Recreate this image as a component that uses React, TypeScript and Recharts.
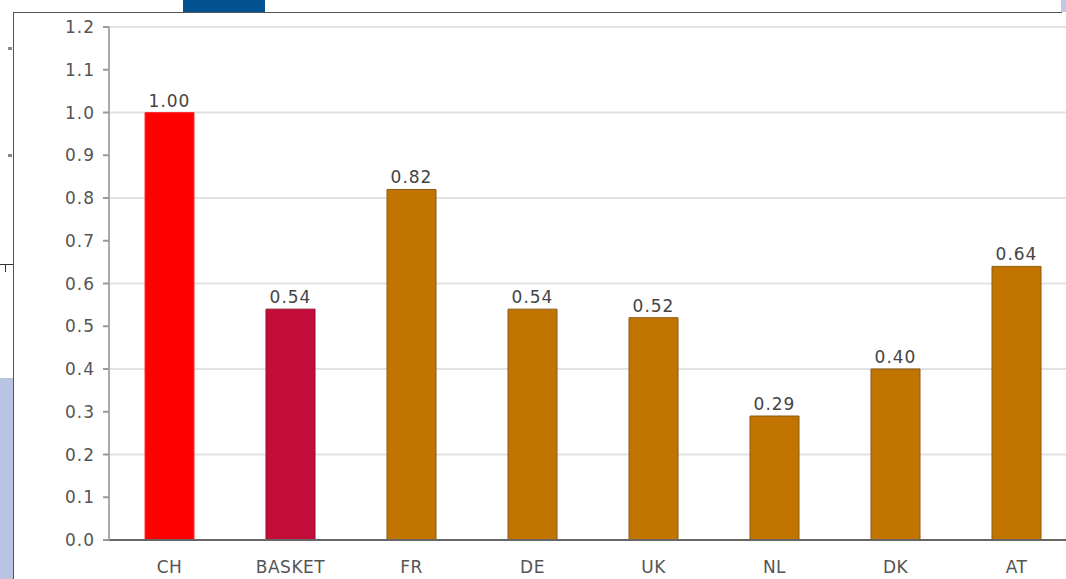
import { BarChart, Bar, XAxis, YAxis, CartesianGrid, Cell, LabelList } from 'recharts';

const categories = ['CH', 'BASKET', 'FR', 'DE', 'UK', 'NL', 'DK', 'AT'];
const values = [1.0, 0.54, 0.82, 0.54, 0.52, 0.29, 0.4, 0.64];
const yTicks = [0, 0.1, 0.2, 0.3, 0.4, 0.5, 0.6, 0.7, 0.8, 0.9, 1.0, 1.1, 1.2];
const gridValues = [0.2, 0.4, 0.6, 0.8, 1.0, 1.2];

const fills = ['#ff0000', '#c20c3a', '#c27400', '#c27400', '#c27400', '#c27400', '#c27400', '#c27400'];
const strokes = ['#ff3030', '#8c1030', '#8a5a18', '#8a5a18', '#8a5a18', '#8a5a18', '#8a5a18', '#8a5a18'];

const data = categories.map((name, i) => ({ name, value: values[i] }));

const font = '"DejaVu Sans", Verdana, sans-serif';

export default function App() {
  return (
    <div
      style={{
        position: 'absolute',
        left: 0,
        top: 0,
        width: 1066,
        height: 579,
        overflow: 'hidden',
        background: '#fff',
        fontFamily: font,
      }}
    >
      {/* page fragments around the chart panel */}
      <div style={{ position: 'absolute', left: 183, top: 0, width: 82, height: 12, background: '#03518f' }} />
      <div style={{ position: 'absolute', left: 1061, top: 0, width: 5, height: 12, background: '#c0c8e8' }} />
      <div style={{ position: 'absolute', left: 0, top: 378, width: 13, height: 201, background: '#b8c4e2' }} />
      <div style={{ position: 'absolute', left: 8, top: 47, width: 4, height: 3, background: '#888' }} />
      <div style={{ position: 'absolute', left: 8, top: 154, width: 4, height: 3, background: '#888' }} />
      <div style={{ position: 'absolute', left: 0, top: 264, width: 13, height: 1, background: '#333' }} />
      <div style={{ position: 'absolute', left: 5, top: 264, width: 1, height: 8, background: '#333' }} />
      <div style={{ position: 'absolute', left: 13, top: 12, width: 1049, height: 1, background: '#555' }} />
      <div style={{ position: 'absolute', left: 13, top: 12, width: 1, height: 567, background: '#555' }} />

      <div style={{ position: 'absolute', left: 0, top: 0 }}>
        <BarChart
          width={1100}
          height={579}
          data={data}
          margin={{ top: 27, right: 23, left: 0, bottom: 9 }}
          barCategoryGap={0}
        >
          <CartesianGrid vertical={false} horizontalValues={gridValues} stroke="#e2e2e2" strokeWidth={2} />
          <XAxis
            dataKey="name"
            height={30}
            axisLine={{ stroke: '#666', strokeWidth: 2 }}
            tickLine={false}
            tickMargin={15}
            tick={{ fill: '#555', fontSize: 17, fontFamily: font, letterSpacing: 0.5 }}
            interval={0}
          />
          <YAxis
            width={109}
            domain={[0, 1.2]}
            ticks={yTicks}
            interval={0}
            tickFormatter={(v: number) => v.toFixed(1)}
            axisLine={{ stroke: '#aaa', strokeWidth: 2 }}
            tickLine={{ stroke: '#999', strokeWidth: 2 }}
            tickSize={6}
            tickMargin={8}
            tick={{ fill: '#555', fontSize: 17, fontFamily: font, letterSpacing: 1 }}
          />
          <Bar dataKey="value" barSize={49} isAnimationActive={false}>
            {data.map((d, i) => (
              <Cell key={d.name} fill={fills[i]} stroke={strokes[i]} strokeWidth={1} />
            ))}
            <LabelList
              dataKey="value"
              position="top"
              offset={6}
              formatter={(v: number) => v.toFixed(2)}
              style={{ fill: '#444', fontSize: 17, fontFamily: font, letterSpacing: 1 }}
            />
          </Bar>
        </BarChart>
      </div>
    </div>
  );
}
